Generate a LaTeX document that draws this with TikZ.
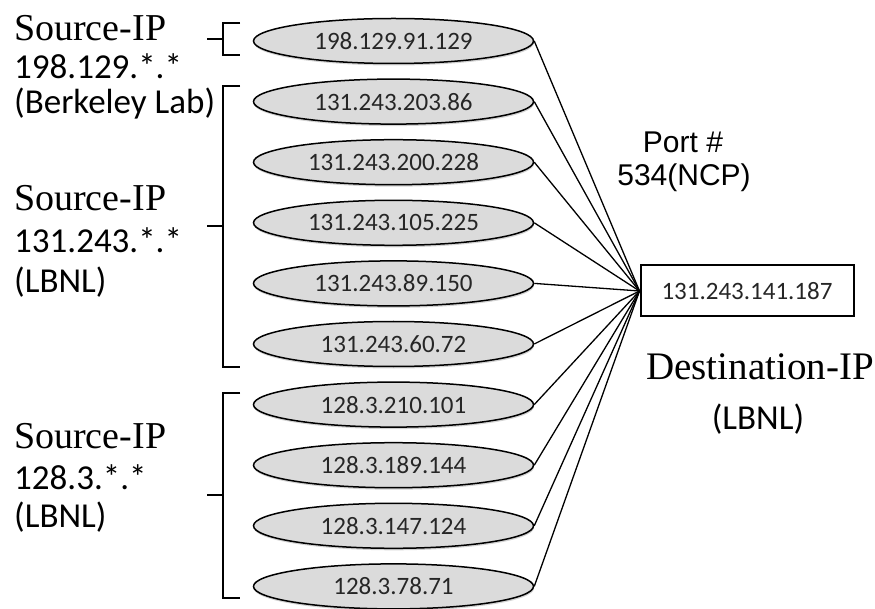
\documentclass[tikz,border=0pt]{standalone}
\usepackage{fontspec}
\setmainfont{Liberation Serif}
\newfontfamily\calfont{Carlito}
\newfontfamily\arifont{Liberation Sans}
\usetikzlibrary{shapes.geometric,shadows}
\begin{document}
\begin{tikzpicture}[x=1pt,y=-1pt,
  src/.style={ellipse,draw=black,line width=1.5pt,fill=gray!28,minimum width=280pt,minimum height=45pt,inner sep=0pt,font=\calfont\fontsize{25}{27}\selectfont,text=black!85,drop shadow={shadow xshift=0.5pt,shadow yshift=-2pt,opacity=0.35}},
  dst/.style={rectangle,draw=black,line width=2pt,minimum width=213pt,minimum height=51pt,inner sep=0pt,font=\calfont\fontsize{25}{27}\selectfont,text=black!85},
  conn/.style={line width=1.3pt},
  brk/.style={line width=2pt},
  lbls/.style={font=\fontsize{38}{40}\selectfont,anchor=west,inner sep=0pt},
  lblc/.style={font=\calfont\fontsize{35}{37}\selectfont,anchor=west,inner sep=0pt},
  lbla/.style={font=\arifont\fontsize{30}{32}\selectfont,inner sep=0pt}]
\useasboundingbox (0,0) rectangle (875,609);
% source ellipses
\node[src] (s1) at (393.5,41) {198.129.91.129};
\node[src] (s2) at (393.5,101.6) {131.243.203.86};
\node[src] (s3) at (393.5,162.2) {131.243.200.228};
\node[src] (s4) at (393.5,222.8) {131.243.105.225};
\node[src] (s5) at (393.5,283.4) {131.243.89.150};
\node[src] (s6) at (393.5,344) {131.243.60.72};
\node[src] (s7) at (393.5,404.6) {128.3.210.101};
\node[src] (s8) at (393.5,465.2) {128.3.189.144};
\node[src] (s9) at (393.5,525.8) {128.3.147.124};
\node[src] (s10) at (393.5,586.4) {128.3.78.71};
% destination
\node[dst] (d) at (747,291) {131.243.141.187};
\foreach \i in {1,...,10} \draw[conn] (s\i.east) -- (d.west);
% labels
\node[lbla] (p1) at (683,142) {Port \#};
\node[lbla] (p2) at (684,178) {534(NCP)};
\node[font=\fontsize{39}{41}\selectfont,inner sep=0pt] (dl1) at (760,367) {Destination-IP};
\node[font=\calfont\fontsize{35}{37}\selectfont,inner sep=0pt] (dl2) at (758,419) {(LBNL)};
% left groups
\node[lbls] (a1) at (14,28) {Source-IP};
\node[lblc] (a2) at (14,66) {198.129.*.*};
\node[lblc] (a3) at (14,104) {(Berkeley Lab)};
\node[lbls] (b1) at (14,198) {Source-IP};
\node[lblc] (b2) at (14,240) {131.243.*.*};
\node[lblc] (b3) at (14,282) {(LBNL)};
\node[lbls] (c1) at (14,436) {Source-IP};
\node[lblc] (c2) at (14,477) {128.3.*.*};
\node[lblc] (c3) at (14,517) {(LBNL)};
% brackets
\coordinate (k1) at (207,39);
\draw[brk] (240,23) -- (223,23) -- (223,55) -- (240,55);
\draw[brk] (k1) -- (223,39);
\coordinate (k2) at (207,226);
\draw[brk] (240,86) -- (223,86) -- (223,367) -- (240,367);
\draw[brk] (k2) -- (223,226);
\coordinate (k3) at (207,495);
\draw[brk] (240,393) -- (223,393) -- (223,598) -- (240,598);
\draw[brk] (k3) -- (223,495);
\end{tikzpicture}
\end{document}
